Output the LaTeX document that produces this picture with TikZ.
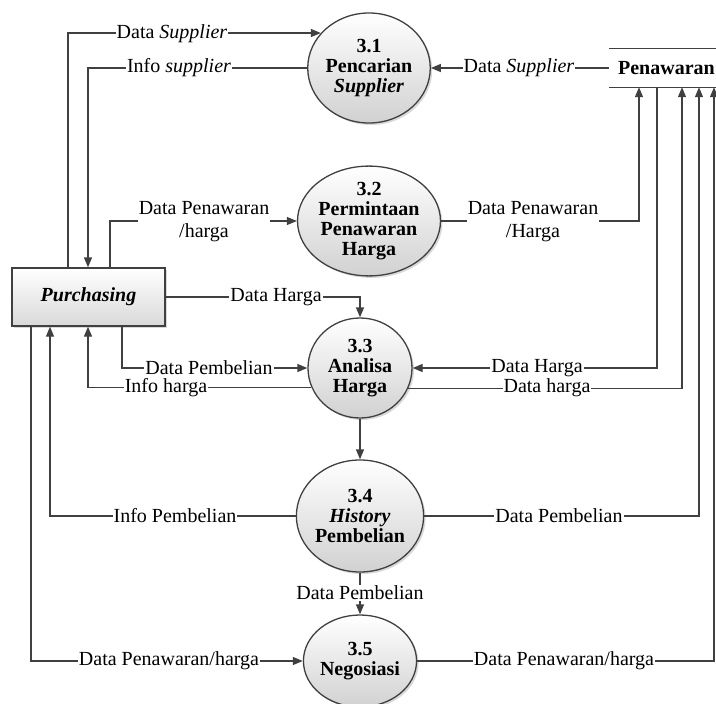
\documentclass[tikz,border=0pt]{standalone}
\usepackage{fontspec}
\setmainfont{Liberation Serif}
\usetikzlibrary{arrows.meta,shapes.geometric,shadows}

\begin{document}
\begin{tikzpicture}[x=1pt,y=-1pt,
  line/.style={draw=black!75, line width=1.3pt},
  flow/.style={line, -{Triangle[length=10pt,width=8pt]}},
  lab/.style={fill=white, inner sep=1pt, align=center,
    font=\fontsize{20}{23}\selectfont},
  proc/.style={ellipse, draw=black!75, line width=1.3pt,
    top color=white, bottom color=black!18,
    drop shadow={shadow xshift=2pt, shadow yshift=-2pt, opacity=0.3},
    inner sep=0pt, align=center,
    font=\bfseries\fontsize{20}{20}\selectfont},
  ent/.style={rectangle, draw=black!75, line width=1.3pt,
    top color=white, bottom color=black!15,
    drop shadow={shadow xshift=2pt, shadow yshift=-2pt, opacity=0.3},
    minimum width=153pt, minimum height=58pt, inner sep=0pt,
    font=\bfseries\itshape\fontsize{20}{20}\selectfont},
  store/.style={rectangle, minimum width=122pt, minimum height=38pt,
    inner sep=0pt, font=\bfseries\fontsize{20}{20}\selectfont}
]
\useasboundingbox (0,0) rectangle (716,704);

% external entity and data store (open-ended on the right)
\node[ent] (pur) at (88.5,297) {Purchasing};
\node[store] (st) at (670,68) {};
\node[font=\bfseries\fontsize{20}{20}\selectfont, inner sep=0pt, anchor=east]
  (stname) at (715,68) {Penawaran};
\draw[line] (st.north west) -- (st.north east);
\draw[line] (st.south west) -- (st.south east);

% processes
\node[proc, minimum width=122pt, minimum height=110pt] (c1) at (369,68)
  {3.1\\Pencarian\\\textit{Supplier}};
\node[proc, minimum width=122pt, minimum height=108pt] (c2) at (369,221)
  {3.2\\Permintaan\\Penawaran\\Harga};
\node[proc, minimum width=104pt, minimum height=100pt] (c3) at (360,368)
  {3.3\\Analisa\\Harga};
\node[proc, minimum width=122pt, minimum height=112pt] (c4) at (360,516)
  {3.4\\\textit{History}\\Pembelian};
\node[proc, minimum width=104pt, minimum height=92pt] (c5) at (360,661)
  {3.5\\Negosiasi};

% data flows
\draw[flow] (pur.north -| 68,0) |- (c1.144.7);
\draw[flow] (c1.west) -| (pur.north -| 88,0);
\draw[flow] (st.west) -- (c1.east);
\draw[flow] (pur.north -| 110,0) |- (c2.west);
\draw[flow] (c2.east) -| (st.south -| 639,0);
\draw[flow] (pur.east) -| (c3.north);
\draw[flow] (pur.south -| 122,0) |- (c3.west);
\draw[flow] (c3.202.7) -| (pur.south -| 88,0);
\draw[flow] (st.south -| 657,0) |- (c3.east);
\draw[flow] (c3.337.3) -| (st.south -| 682,0);
\draw[flow] (c3.south) -- (c4.north);
\draw[flow] (c4.east) -| (st.south -| 699,0);
\draw[flow] (c4.west) -| (pur.south -| 50,0);
\draw[flow] (c4.south) -- (c5.north);
\draw[flow] (pur.south -| 31,0) |- (c5.west);
\draw[flow] (c5.east) -| (st.south -| 714,0);

% flow labels
\node[lab] (l1) at (172,34) {Data \textit{Supplier}};
\node[lab] (l2) at (179,68) {Info \textit{supplier}};
\node[lab] (l3) at (519,68) {Data \textit{Supplier}};
\node[lab] (l4) at (204,222) {Data Penawaran\\/harga};
\node[lab] (l5) at (533,222) {Data Penawaran\\/Harga};
\node[lab] (l6) at (276,297) {Data Harga};
\node[lab] (l7) at (209,368) {Data Pembelian};
\node[lab] (l8) at (166,388) {Info harga};
\node[lab] (l9) at (537,368) {Data Harga};
\node[lab] (l10) at (547,388) {Data harga};
\node[lab] (l11) at (175,516) {Info Pembelian};
\node[lab] (l12) at (559,516) {Data Pembelian};
\node[lab] (l13) at (360,593) {Data Pembelian};
\node[lab] (l14) at (169,661) {Data Penawaran/harga};
\node[lab] (l15) at (564,661) {Data Penawaran/harga};
\end{tikzpicture}
\end{document}
